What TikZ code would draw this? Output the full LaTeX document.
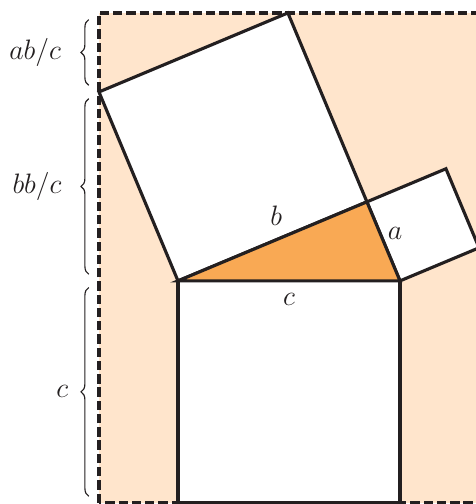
\documentclass[tikz,border=0pt]{standalone}
\usepackage{tikz}
\usetikzlibrary{calc, decorations.pathreplacing}
\usepackage{amsmath}
\usepackage{xcolor}

\definecolor{peach}{RGB}{255,229,204}
\definecolor{tri}{RGB}{249,169,84}
\definecolor{ink}{RGB}{35,31,32}

\begin{document}
\begin{tikzpicture}[
    line width=1.6pt,
    draw=ink,
    sq/.style={fill=white, draw=ink, line join=miter},
    frame/.style={fill=peach, draw=ink, line width=1.7pt, dash pattern=on 4.8pt off 2pt},
    brc/.style={decorate, decoration={brace, amplitude=4pt}, line width=0.6pt, draw=ink},
    lbl/.style={font=\Large, text=ink, inner sep=0pt}
]
    \pgfmathsetmacro{\cx}{4*cos(22.7)^2}
    \pgfmathsetmacro{\cy}{4*cos(22.7)*sin(22.7)}

    \useasboundingbox (-3.207,-4.02) rectangle (5.369,5.061);
    \clip (-3.207,-4.02) rectangle (5.369,5.061);

    % Triangle corners
    \coordinate (A) at (0,0);
    \coordinate (B) at (4,0);
    \coordinate (C) at (\cx,\cy);

    % Square corners
    \coordinate (b1) at ($(A)!1!90:(C)$);
    \coordinate (b2) at ($(C)!1!-90:(A)$);
    \coordinate (a1) at ($(C)!1!90:(B)$);
    \coordinate (a2) at ($(B)!1!-90:(C)$);
    \coordinate (c1) at (4,-4);
    \coordinate (c2) at (0,-4);

    % Frame
    \draw[frame] (-\cy,-4) rectangle ({4+\cy},{\cx+\cy});

    % Squares
    \draw[sq] (A) -- (C) -- (b2) -- (b1) -- cycle;
    \draw[sq] (C) -- (B) -- (a2) -- (a1) -- cycle;
    \draw[sq] (A) -- (B) -- (c1) -- (c2) -- cycle;

    % Triangle
    \draw[fill=tri, line join=miter] (A) -- (B) -- (C) -- cycle;

    % Side labels
    \node[lbl] (lb) at (1.77,1.17) {$b$};
    \node[lbl] (la) at (3.91,0.85) {$a$};
    \node[lbl] (lc) at (2.0,-0.33) {$c$};

    % Braces
    \draw[brc] (-1.607,{\cx+0.12}) -- (-1.607,{\cx+\cy-0.12});
    \draw[brc] (-1.607,0.12) -- (-1.607,{\cx-0.12});
    \draw[brc] (-1.607,-3.88) -- (-1.607,-0.12);
    \node[lbl, anchor=east] (lab) at (-2.08,{\cx+\cy/2}) {$ab/c$};
    \node[lbl, anchor=east] (lbb) at (-2.07,{\cx/2}) {$bb/c$};
    \node[lbl, anchor=east] (lcc) at (-1.95,-2) {$c$};
\end{tikzpicture}
\end{document}
